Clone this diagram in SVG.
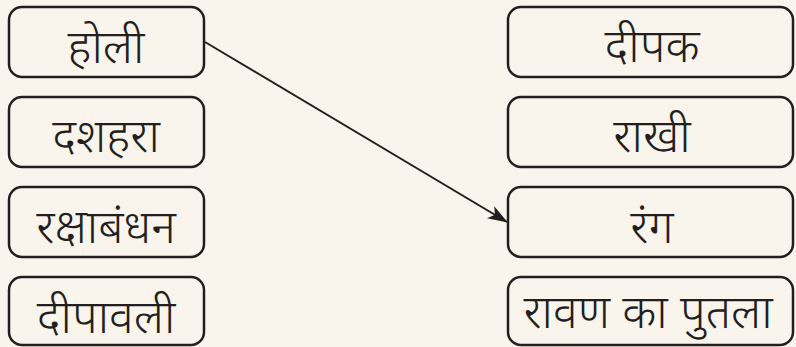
<svg xmlns="http://www.w3.org/2000/svg" width="796" height="347" viewBox="0 0 796 347">
<style>
.box{fill:none;stroke:#231f20;stroke-width:2.5}
.t{font-family:"Noto Sans","Noto Sans Devanagari","Lohit Devanagari",sans-serif;font-size:47px;font-weight:300;fill:#231f20;text-anchor:middle}
.c{stroke:#231f20;stroke-width:2;fill:none}
</style>
<defs>
<marker id="ah" markerWidth="20" markerHeight="14" refX="19" refY="7" orient="auto" markerUnits="userSpaceOnUse">
<path d="M0,0 L20,7 L0,14 L5,7 Z" fill="#231f20"/>
</marker>
</defs>
<rect width="796" height="347" fill="#f9f5ec"/>
<g id="n-holi"><rect class="box" x="9" y="7" width="195" height="70" rx="13"/><text class="t" x="106" y="63">होली</text></g>
<g id="n-dashahra"><rect class="box" x="9" y="97" width="195" height="70" rx="13"/><text class="t" x="106" y="152">दशहरा</text></g>
<g id="n-rakshabandhan"><rect class="box" x="9" y="187" width="195" height="70" rx="13"/><text class="t" x="106" y="243">रक्षाबंधन</text></g>
<g id="n-deepawali"><rect class="box" x="9" y="277" width="195" height="68" rx="13"/><text class="t" x="106" y="333">दीपावली</text></g>
<g id="n-deepak"><rect class="box" x="508" y="7" width="285" height="70" rx="13"/><text class="t" x="652" y="62">दीपक</text></g>
<g id="n-rakhi"><rect class="box" x="508" y="97" width="285" height="70" rx="13"/><text class="t" x="652" y="152">राखी</text></g>
<g id="n-rang"><rect class="box" x="508" y="187" width="285" height="70" rx="13"/><text class="t" x="652" y="243">रंग</text></g>
<g id="n-ravan"><rect class="box" x="508" y="277" width="285" height="68" rx="13"/><text class="t" x="648" y="328">रावण का पुतला</text></g>
<g id="connectors"><line class="c" x1="205" y1="42" x2="507" y2="222" marker-end="url(#ah)"/></g>
</svg>
